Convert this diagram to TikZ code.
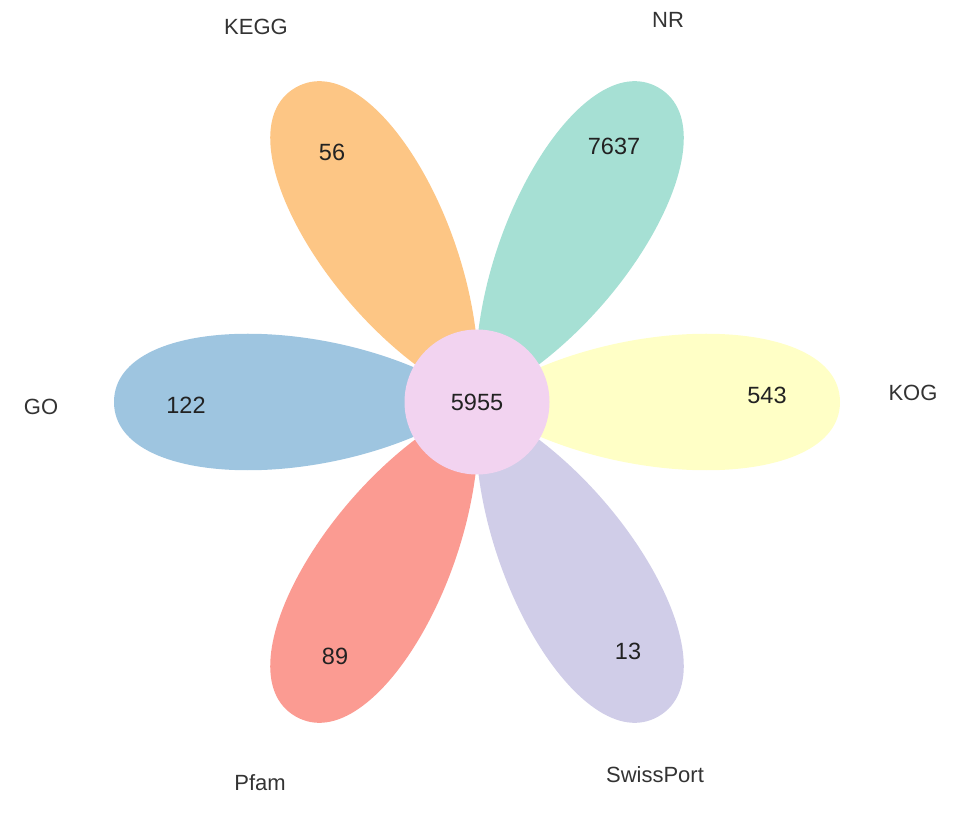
\documentclass[tikz,border=0pt]{standalone}
\usepackage{fontspec}
\setmainfont{Liberation Sans}
\definecolor{cNR}{HTML}{A6E0D4}
\definecolor{cKEGG}{HTML}{FDC685}
\definecolor{cGO}{HTML}{9EC5E0}
\definecolor{cPfam}{HTML}{FB9B92}
\definecolor{cSwiss}{HTML}{D0CDE8}
\definecolor{cKOG}{HTML}{FFFFC6}
\definecolor{cCore}{HTML}{F2D3F0}
\definecolor{numtext}{HTML}{222222}
\definecolor{settext}{HTML}{333333}
\tikzset{
  petal/.pic={
    \fill[pic actions] (0,0) .. controls (127,91) and (363,91) .. (363,0)
      .. controls (363,-91) and (127,-91) .. (0,0) -- cycle;
  },
  numlabel/.style={inner sep=0pt, text=numtext, font=\fontsize{23.5}{28}\selectfont},
  setlabel/.style={inner sep=0pt, text=settext, font=\fontsize{22}{26}\selectfont},
}
\begin{document}
\begin{tikzpicture}[x=1pt,y=1pt]
\useasboundingbox (0,0) rectangle (968,836);
\coordinate (c) at (477,434);
% petals
\pic[fill=cKOG,   rotate=0]   at (c) {petal};
\pic[fill=cNR,    rotate=60]  at (c) {petal};
\pic[fill=cKEGG,  rotate=120] at (c) {petal};
\pic[fill=cGO,    rotate=180] at (c) {petal};
\pic[fill=cPfam,  rotate=240] at (c) {petal};
\pic[fill=cSwiss, rotate=300] at (c) {petal};
% core
\node[circle, fill=cCore, minimum size=145pt, inner sep=0pt, numlabel] (core) at (c) {5955};
% petal counts
\node[numlabel] (nKOG)   at (767,441) {543};
\node[numlabel] (nNR)    at (614,690) {7637};
\node[numlabel] (nKEGG)  at (332,684) {56};
\node[numlabel] (nGO)    at (186,431) {122};
\node[numlabel] (nPfam)  at (335,180) {89};
\node[numlabel] (nSwiss) at (628,185) {13};
% set names
\node[setlabel] (lKOG)   at (913,443) {KOG};
\node[setlabel] (lNR)    at (668,816) {NR};
\node[setlabel] (lKEGG)  at (256,809) {KEGG};
\node[setlabel] (lGO)    at (41,429)  {GO};
\node[setlabel] (lPfam)  at (260,53)  {Pfam};
\node[setlabel] (lSwiss) at (655,61)  {SwissPort};
\end{tikzpicture}
\end{document}
